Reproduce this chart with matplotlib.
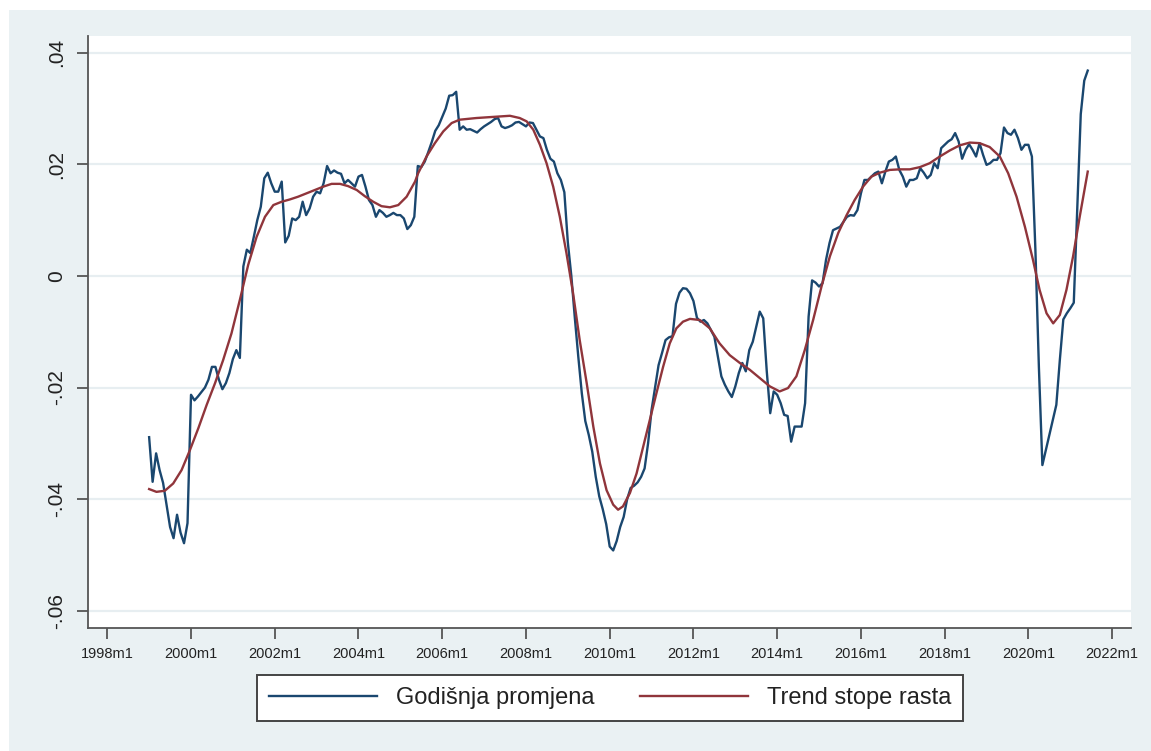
import numpy as np
import matplotlib.pyplot as plt
from matplotlib.patches import Rectangle

plt.rcParams['font.family'] = ['Liberation Sans', 'DejaVu Sans']

# monthly data, 1999m1 .. 2021m6 (one row per year)
start_year = 1999
godisnja = [
    -0.0289, -0.0369, -0.0318, -0.0348, -0.0371, -0.0410, -0.0450, -0.0470, -0.0428, -0.0460, -0.0479, -0.0443,
    -0.0213, -0.0223, -0.0216, -0.0208, -0.0200, -0.0186, -0.0163, -0.0163, -0.0186, -0.0203, -0.0192, -0.0174,
    -0.0149, -0.0133, -0.0147, 0.0017, 0.0047, 0.0041, 0.0070, 0.0100, 0.0124, 0.0175, 0.0185, 0.0166,
    0.0151, 0.0151, 0.0169, 0.0060, 0.0072, 0.0103, 0.0100, 0.0106, 0.0133, 0.0109, 0.0121, 0.0142,
    0.0151, 0.0148, 0.0166, 0.0197, 0.0184, 0.0189, 0.0185, 0.0183, 0.0166, 0.0172, 0.0166, 0.0160,
    0.0178, 0.0181, 0.0160, 0.0136, 0.0127, 0.0106, 0.0118, 0.0113, 0.0106, 0.0109, 0.0113, 0.0109,
    0.0109, 0.0103, 0.0084, 0.0091, 0.0106, 0.0197, 0.0195, 0.0205, 0.0222, 0.0240, 0.0260, 0.0270,
    0.0285, 0.0300, 0.0323, 0.0324, 0.0330, 0.0262, 0.0268, 0.0262, 0.0263, 0.0260, 0.0257, 0.0263,
    0.0268, 0.0272, 0.0276, 0.0281, 0.0283, 0.0268, 0.0265, 0.0267, 0.0270, 0.0275, 0.0276, 0.0272,
    0.0268, 0.0275, 0.0274, 0.0262, 0.0250, 0.0247, 0.0226, 0.0210, 0.0205, 0.0184, 0.0172, 0.0150,
    0.0060, 0.0000, -0.0075, -0.0145, -0.0210, -0.0260, -0.0285, -0.0315, -0.0360, -0.0395, -0.0418, -0.0445,
    -0.0485, -0.0492, -0.0475, -0.0450, -0.0432, -0.0400, -0.0380, -0.0376, -0.0370, -0.0360, -0.0345, -0.0300,
    -0.0240, -0.0200, -0.0160, -0.0138, -0.0115, -0.0110, -0.0108, -0.0050, -0.0030, -0.0022, -0.0023, -0.0031,
    -0.0045, -0.0075, -0.0082, -0.0079, -0.0085, -0.0097, -0.0109, -0.0145, -0.0180, -0.0195, -0.0207, -0.0217,
    -0.0198, -0.0174, -0.0156, -0.0171, -0.0133, -0.0118, -0.0091, -0.0064, -0.0076, -0.0170, -0.0246, -0.0207,
    -0.0213, -0.0228, -0.0249, -0.0251, -0.0297, -0.0270, -0.0270, -0.0270, -0.0228, -0.0073, -0.0008, -0.0012,
    -0.0019, -0.0013, 0.0029, 0.0059, 0.0082, 0.0085, 0.0088, 0.0097, 0.0106, 0.0109, 0.0108, 0.0118,
    0.0148, 0.0172, 0.0172, 0.0178, 0.0184, 0.0187, 0.0166, 0.0187, 0.0205, 0.0208, 0.0214, 0.0190,
    0.0178, 0.0160, 0.0172, 0.0172, 0.0175, 0.0193, 0.0185, 0.0175, 0.0181, 0.0202, 0.0193, 0.0229,
    0.0235, 0.0241, 0.0245, 0.0256, 0.0241, 0.0210, 0.0226, 0.0236, 0.0226, 0.0214, 0.0238, 0.0217,
    0.0199, 0.0202, 0.0208, 0.0208, 0.0220, 0.0266, 0.0256, 0.0253, 0.0262, 0.0247, 0.0226, 0.0235,
    0.0235, 0.0214, 0.0047, -0.0163, -0.0339, -0.0312, -0.0285, -0.0258, -0.0231, -0.0151, -0.0078, -0.0067,
    -0.0058, -0.0048, 0.0120, 0.0290, 0.0350, 0.0368,
]

# trend: months since 1999m1 and value
trend_month = [
    0, 2.1, 4.5, 6.9, 9.3, 11.7, 14.1, 16.5, 18.9, 21.2, 23.6, 26.0, 28.4, 30.8, 33.2, 35.6,
    38.0, 40.3, 42.7, 45.1, 47.5, 49.9, 52.3, 54.7, 57.0, 59.5, 61.8, 64.2, 66.6, 69.0, 71.4,
    73.8, 76.2, 77.1, 79.5, 81.9, 84.3, 86.7, 89.0, 93.8, 98.6, 103.4, 106.2, 108.2, 110.1,
    112.0, 113.9, 115.8, 117.7, 119.6, 121.5, 123.4, 125.4, 127.3, 129.2, 131.1, 133.0, 134.4,
    135.8, 137.8, 139.7, 141.6, 143.5, 145.4, 147.3, 149.2, 151.1, 153.0, 155.0, 157.8, 160.7,
    163.5, 166.4, 169.3, 172.1, 175.0, 177.9, 180.7, 183.1, 185.5, 187.9, 190.3, 192.7, 195.1,
    197.5, 199.9, 202.2, 204.6, 207.0, 209.4, 212.3, 215.1, 218.0, 220.9, 223.7, 226.6, 229.5,
    232.3, 235.2, 238.0, 240.9, 243.8, 246.2, 248.6, 251.0, 253.3, 255.2, 257.2, 259.1, 261.0,
    262.9, 264.8, 266.7, 269.0,
]
trend_value = [
    -0.0382, -0.0387, -0.0385, -0.0372, -0.0348, -0.0312, -0.0273, -0.0231, -0.0192, -0.0151,
    -0.0103, -0.0043, 0.0020, 0.0070, 0.0106, 0.0127,
    0.0133, 0.0137, 0.0142, 0.0148, 0.0154, 0.0160, 0.0165, 0.0165, 0.0161, 0.0154, 0.0143,
    0.0133, 0.0125, 0.0123, 0.0127,
    0.0142, 0.0169, 0.0184, 0.0214, 0.0238, 0.0259, 0.0274, 0.0280, 0.0283, 0.0285, 0.0287,
    0.0283, 0.0277, 0.0262,
    0.0235, 0.0202, 0.0160, 0.0106, 0.0041, -0.0031, -0.0115, -0.0192, -0.0270, -0.0336,
    -0.0384, -0.0410, -0.0419,
    -0.0413, -0.0389, -0.0354, -0.0306, -0.0258, -0.0210, -0.0163, -0.0121, -0.0094, -0.0082,
    -0.0077, -0.0079, -0.0094,
    -0.0121, -0.0142, -0.0156, -0.0168, -0.0183, -0.0198, -0.0207, -0.0201, -0.0180, -0.0133,
    -0.0079, -0.0019, 0.0035,
    0.0077, 0.0109, 0.0136, 0.0160, 0.0178, 0.0185, 0.0190, 0.0191, 0.0191, 0.0195, 0.0202,
    0.0214, 0.0225,
    0.0234, 0.0239, 0.0238, 0.0231, 0.0214, 0.0184, 0.0142, 0.0088, 0.0029, -0.0025, -0.0067,
    -0.0085, -0.0070,
    -0.0025, 0.0035, 0.0106, 0.0187,
]

xtick_years = list(range(1998, 2023, 2))
xtick_labels = [f'{y}m1' for y in xtick_years]
yticks = [-0.06, -0.04, -0.02, 0, 0.02, 0.04]
ytick_labels = ['-.06', '-.04', '-.02', '0', '.02', '.04']

blue = '#1A476F'
red = '#90353B'

x_blue = start_year + np.arange(len(godisnja)) / 12
x_trend = start_year + np.array(trend_month) / 12

W, H = 1151, 751
fig = plt.figure(figsize=(W / 100, H / 100), dpi=100, facecolor='white')
fig.patches.append(Rectangle((9 / W, 0), 1, 1 - 10 / H, transform=fig.transFigure,
                             facecolor='#EAF1F3', edgecolor='none', zorder=-10))

ax = fig.add_axes([88 / W, 123 / H, 1043 / W, 592 / H])
ax.set_zorder(1)
ax.set_facecolor('white')

l1, = ax.plot(x_blue, godisnja, color=blue, lw=1.7, solid_joinstyle='round')
l2, = ax.plot(x_trend, trend_value, color=red, lw=1.7, solid_joinstyle='round')

ax.set_xlim(1997.54, 2022.45)
ax.set_ylim(-0.0631, 0.0430)
ax.set_xticks(xtick_years)
ax.set_xticklabels(xtick_labels, fontsize=10.5, color='#222222')
ax.set_yticks(yticks)
ax.set_yticklabels(ytick_labels, fontsize=15, color='#222222', rotation=90, va='center')

ax.yaxis.grid(True, color='#E7EEF1', lw=1.6)
ax.set_axisbelow(True)
for s in ['top', 'right']:
    ax.spines[s].set_visible(False)
for s in ['left', 'bottom']:
    ax.spines[s].set_color('#555555')
    ax.spines[s].set_linewidth(1.3)
ax.tick_params(axis='both', direction='out', length=8, width=1.3, color='#555555')
ax.tick_params(axis='x', pad=6)
ax.tick_params(axis='y', pad=8)

leg = fig.legend([l1, l2], ['Godišnja promjena', 'Trend stope rasta'],
                 loc='center', bbox_to_anchor=((254 + 966) / 2 / W, 1 - (674 + 722) / 2 / H),
                 ncol=2, fontsize=17, frameon=True, fancybox=False, framealpha=1,
                 handlelength=4.57, handletextpad=0.8, columnspacing=1.95,
                 borderpad=0.5, borderaxespad=0)
leg.set_zorder(2)
leg.get_frame().set_edgecolor('#444444')
leg.get_frame().set_linewidth(1.4)
leg.get_frame().set_facecolor('white')
for t in leg.get_texts():
    t.set_color('#222222')

fig.savefig('out.png', dpi=100)
